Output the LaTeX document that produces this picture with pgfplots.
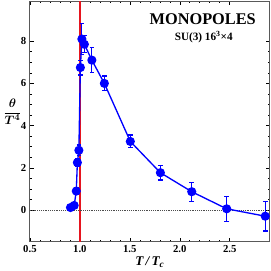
\documentclass[border=0pt]{standalone}
\usepackage{fontspec}
\setmainfont{Liberation Serif}
\usepackage{amsmath}
\usepackage{bm}
\usepackage{pgfplots}
\pgfplotsset{compat=1.18}
\definecolor{vred}{RGB}{230,20,30}
\begin{document}
\begin{tikzpicture}
\begin{axis}[
  scale only axis,
  width=235pt, height=236pt,
  xmin=0.5, xmax=2.9,
  ymin=-1.5, ymax=9.9,
  xtick={0.5,1.0,1.5,2.0,2.5},
  xticklabels={0.5,1.0,1.5,2.0,2.5},
  ytick={0,2,4,6,8},
  minor x tick num=4,
  minor y tick num=3,
  tick align=inside,
  major tick length=4pt,
  minor tick length=2pt,
  tick style={black, line width=0.5pt},
  axis line style={line width=1pt, gray!70!black},
  /pgf/number format/assume math mode=true,
  ticklabel style={font=\bfseries\fontsize{10.5}{12}\selectfont},
  xlabel={\fontsize{13}{15}\selectfont\bfseries\itshape T\,/\,T\textsubscript{\textit{c}}},
  xlabel style={yshift=3pt},
  ylabel={\fontsize{13}{15}\selectfont$\dfrac{\bm{\theta}}{\bm{T^4}}$},
  ylabel style={rotate=-90, at={(axis description cs:-0.02,0.54)}, anchor=east},
  clip=false,
]
\addplot[color=vred, solid, line width=2pt, no markers] coordinates {(1,-1.5) (1,9.9)};
\addplot[draw=black!70, densely dotted, line width=0.8pt, no markers] coordinates {(0.5,0) (2.9,0)};
\addplot[blue, line width=1.3pt, mark=*, mark size=3.8pt,
  error bars/.cd, y dir=both, y explicit,
  error bar style={blue, line width=1.2pt},
  error mark options={rotate=90, mark size=2.3pt, blue, line width=1.2pt}]
  table[x=x, y=y, y error=e] {
x y e
0.906 0.12 0.08
0.943 0.22 0.10
0.964 0.90 0.15
0.975 2.25 0.20
0.990 2.83 0.25
1.005 6.75 0.35
1.020 8.10 0.75
1.045 7.85 0.40
1.120 7.10 0.60
1.245 6.00 0.35
1.505 3.25 0.30
1.806 1.77 0.35
2.120 0.87 0.45
2.470 0.06 0.60
2.856 -0.29 0.70
};
\node[anchor=north, font=\bfseries\fontsize{16}{18}\selectfont] at (axis cs:2.23,9.45) {MONOPOLES};
\node[anchor=north, font=\bfseries\fontsize{11}{13}\selectfont] at (axis cs:2.24,8.65) {SU(3) 16\textsuperscript{3}×4};
\end{axis}
\end{tikzpicture}
\end{document}
